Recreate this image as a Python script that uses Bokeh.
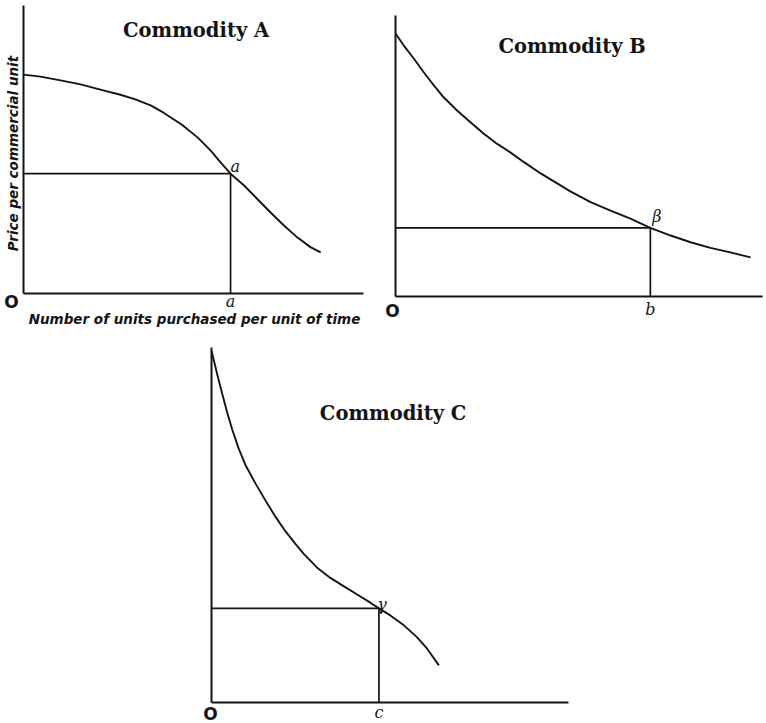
import math
from bokeh.plotting import figure
from bokeh.models import Range1d
from bokeh.core.properties import value
from bokeh.embed import file_html
from bokeh.resources import INLINE

# ---------------- data ----------------
# Commodity A
qty_a = [0.0, 0.50, 1.09, 1.68, 2.26, 2.85, 3.29, 3.74, 4.13, 4.32, 4.65, 5.11,
         5.50, 5.79, 6.09, 6.48, 6.87, 7.26, 7.66, 8.05, 8.44, 8.74]
price_a = [7.60, 7.53, 7.40, 7.26, 7.08, 6.90, 6.74, 6.53, 6.27, 6.12, 5.87, 5.43,
           4.97, 4.56, 4.16, 3.76, 3.29, 2.82, 2.36, 1.95, 1.61, 1.43]
eq_a = (6.09, 4.16)

# Commodity B
qty_b = [0.0, 0.23, 0.51, 0.78, 1.06, 1.33, 1.70, 2.07, 2.44, 2.81, 3.18, 3.54,
         4.01, 4.42, 4.83, 5.39, 5.94, 6.49, 7.04, 7.60, 8.15, 8.70, 9.25, 9.81]
price_b = [9.36, 8.93, 8.46, 7.98, 7.51, 7.09, 6.62, 6.20, 5.79, 5.43, 5.12, 4.79,
           4.38, 4.06, 3.74, 3.36, 3.06, 2.77, 2.44, 2.17, 1.93, 1.73, 1.57, 1.39]
eq_b = (7.04, 2.44)

# Commodity C
qty_c = [0.0, 0.06, 0.16, 0.30, 0.44, 0.58, 0.76, 0.95, 1.23, 1.51, 1.79, 2.07,
         2.35, 2.59, 2.96, 3.33, 3.71, 4.08, 4.45, 4.69, 5.01, 5.39, 5.76, 6.04, 6.37]
price_c = [9.94, 9.69, 9.27, 8.72, 8.19, 7.71, 7.18, 6.71, 6.19, 5.71, 5.25, 4.84,
           4.48, 4.19, 3.81, 3.52, 3.28, 3.05, 2.82, 2.66, 2.46, 2.18, 1.84, 1.52, 1.05]
eq_c = (4.69, 2.66)

titles = ["Commodity  A", "Commodity  B", "Commodity  C"]
point_labels = ["a", "\u03b2", "\u03b3"]
tick_labels = ["a", "b", "c"]
x_label = "Number of units purchased per unit of time"
y_label = "Price per commercial unit"

# ---------------- layout (pixels in the 766x723 window) ----------------
W, H = 766, 723
M = 0
panels = {
    "A": dict(ox=23, oy=293, sx=34.0, sy=28.8, xlen=10.0, ylen=10.0),
    "B": dict(ox=395, oy=296, sx=36.2, sy=28.1, xlen=10.14, ylen=10.0),
    "C": dict(ox=211, oy=702, sx=35.7, sy=35.4, xlen=10.0, ylen=10.03),
}

p = figure(width=W, height=H, output_backend="svg", toolbar_location=None,
           x_range=Range1d(0, W), y_range=Range1d(0, H), min_border=0,
           x_axis_location=None, y_axis_location=None,
           outline_line_color=None, background_fill_color="white",
           border_fill_color="white")
p.grid.visible = False

INK = "#141414"
SERIF = value("DejaVu Serif")
SANS = value("DejaVu Sans")


def to_data(key, px, py):
    c = panels[key]
    return (px - c["ox"]) / c["sx"], (c["oy"] - py) / c["sy"]


for key, c in panels.items():
    xs = (M - c["ox"]) / c["sx"]
    xe = (M + W - c["ox"]) / c["sx"]
    ys = (c["oy"] - (M + H)) / c["sy"]
    ye = (c["oy"] - M) / c["sy"]
    p.extra_x_ranges["x" + key] = Range1d(xs, xe)
    p.extra_y_ranges["y" + key] = Range1d(ys, ye)

data = {
    "A": (qty_a, price_a, eq_a),
    "B": (qty_b, price_b, eq_b),
    "C": (qty_c, price_c, eq_c),
}
title_pos = {"A": (199, 30), "B": (575, 46), "C": (396, 413)}
o_offsets = {"A": (-12, 8), "B": (-3, 14), "C": (-1, 11)}
tick_offsets = {"A": 8, "B": 13, "C": 10}
pt_offsets = {"A": (0, -7, "left"), "B": (2, -11, "left"), "C": (3, -4, "center")}

for i, key in enumerate(["A", "B", "C"]):
    c = panels[key]
    rn = dict(x_range_name="x" + key, y_range_name="y" + key)
    q, pr, (qe, pe) = data[key]
    # axes
    p.line([0, c["xlen"]], [0, 0], line_width=2, line_color=INK, **rn)
    p.line([0, 0], [0, c["ylen"]], line_width=2, line_color=INK, **rn)
    # rectangle to equilibrium point
    p.line([0, qe, qe], [pe, pe, 0], line_width=1.7, line_color=INK, **rn)
    # demand curve
    p.line(q, pr, line_width=1.9, line_color=INK, line_join="round", **rn)
    # title
    tx, ty = to_data(key, *title_pos[key])
    p.text([tx], [ty], text=[titles[i]], text_font=SERIF, text_font_style="bold",
           text_font_size="19.5px", text_align="center", text_baseline="middle",
           text_color=INK, **rn)
    # origin label
    ox_, oy_ = o_offsets[key]
    p.text([0], [0], text=["O"], text_font=SANS, text_font_style="bold",
           text_font_size="17px", text_align="center", text_baseline="alphabetic",
           x_offset=ox_, y_offset=oy_, text_color=INK, **rn)
    # quantity tick label
    p.text([qe], [0], text=[tick_labels[i]], text_font=SERIF, text_font_style="italic",
           text_font_size="16px", text_align="center", text_baseline="alphabetic",
           y_offset=tick_offsets[key], text_color=INK, **rn)
    # point label
    dx, dy, al = pt_offsets[key]
    p.text([qe], [pe], text=[point_labels[i]], text_font=SERIF, text_font_style="italic",
           text_font_size="16px", text_align=al, text_baseline="alphabetic",
           x_offset=dx, y_offset=dy, text_color=INK, **rn)

# axis titles for panel A
lx, ly = to_data("A", 194, 318)
p.text([lx], [ly], text=[x_label], text_font=SANS, text_font_style="bold italic",
       text_font_size="13.5px", text_align="center", text_baseline="middle",
       text_color=INK, x_range_name="xA", y_range_name="yA")
yx, yy = to_data("A", 12, 153)
p.text([yx], [yy], text=[y_label], text_font=SANS, text_font_style="bold italic",
       text_font_size="13.5px", text_align="center", text_baseline="middle",
       angle=math.pi / 2, text_color=INK, x_range_name="xA", y_range_name="yA")

open("out.html", "w").write(file_html(p, INLINE))
